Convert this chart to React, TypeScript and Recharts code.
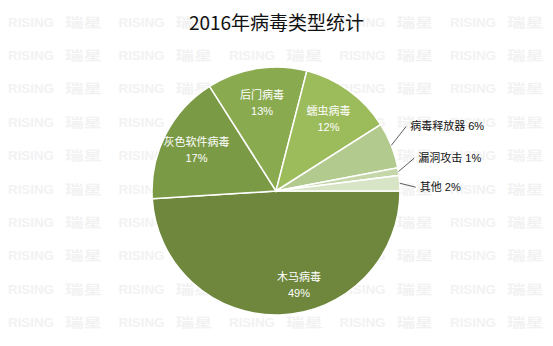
import { PieChart, Pie, Cell } from "recharts";

const categories = ["木马病毒", "灰色软件病毒", "后门病毒", "蠕虫病毒", "病毒释放器", "漏洞攻击", "其他"];
const shares = [49, 17, 13, 12, 6, 1, 2];
const colors = ["#6E873C", "#7B9A45", "#8AAA50", "#9CBB5A", "#B2CA8D", "#C5D7A9", "#D8E4C6"];

const data = categories.map((name, i) => ({ name, value: shares[i] }));

const FONT = '"Liberation Sans", "Noto Sans CJK SC", sans-serif';
const RAD = Math.PI / 180;
// vertical nudges for the small outside labels so they don't collide
const outsideNudge: Record<number, number> = { 4: -13, 5: -11, 6: 5 };

function renderLabel(props: any) {
  const { cx, cy, midAngle, outerRadius, name, value, index } = props;
  const cos = Math.cos(-midAngle * RAD);
  const sin = Math.sin(-midAngle * RAD);
  if (value >= 10) {
    const r = outerRadius * (value > 40 ? 0.76 : 0.72);
    const x = cx + r * cos + (value > 40 ? 20 : 0);
    const y = cy + r * sin;
    return (
      <g>
        <text x={x} y={y - 8} fill="#fff" fontSize={11} fontFamily={FONT} textAnchor="middle" dominantBaseline="central">
          {name}
        </text>
        <text x={x} y={y + 8} fill="#fff" fontSize={11} fontFamily={FONT} textAnchor="middle" dominantBaseline="central">
          {value}%
        </text>
      </g>
    );
  }
  const sx = cx + outerRadius * cos;
  const sy = cy + outerRadius * sin;
  const ex = cx + (outerRadius + 16) * cos;
  const ey = cy + (outerRadius + 16) * sin + (outsideNudge[index] || 0);
  return (
    <g>
      <path d={`M${sx},${sy}L${ex},${ey}`} stroke="#333" strokeWidth={0.8} fill="none" />
      <text x={ex + 4} y={ey} fill="#111" fontSize={11} fontFamily={FONT} textAnchor="start" dominantBaseline="central">
        {`${name} ${value}%`}
      </text>
    </g>
  );
}

function Watermark() {
  const rows = Array.from({ length: 10 }, (_, i) => 22 + i * 33.4);
  const cols = Array.from({ length: 5 }, (_, j) => 8 + j * 110.5);
  return (
    <svg width={553} height={346} style={{ position: "absolute", left: 0, top: 0 }}>
      {rows.map((y) =>
        cols.map((x) => (
          <g key={`${x}-${y}`} fill="#F2F2F2" fontWeight="bold" fontFamily={FONT}>
            <text x={x} y={y} fontSize={13} dominantBaseline="central" textLength={46} lengthAdjust="spacingAndGlyphs">
              RISING
            </text>
            <text x={x + 57} y={y} fontSize={13} dominantBaseline="central" textLength={37} lengthAdjust="spacingAndGlyphs">
              瑞星
            </text>
          </g>
        ))
      )}
    </svg>
  );
}

export default function App() {
  return (
    <div style={{ position: "absolute", left: 0, top: 0, width: 553, height: 346, background: "#fff", overflow: "hidden" }}>
      <Watermark />
      <div style={{ position: "absolute", left: 0, top: 0 }}>
        <PieChart width={553} height={346} margin={{ top: 0, right: 0, bottom: 0, left: 0 }}>
          <Pie
            data={data}
            dataKey="value"
            nameKey="name"
            cx={276}
            cy={191}
            outerRadius={124}
            startAngle={0}
            endAngle={-360}
            stroke="#fff"
            strokeWidth={1.5}
            label={renderLabel}
            labelLine={false}
            isAnimationActive={false}
          >
            {data.map((d, i) => (
              <Cell key={d.name} fill={colors[i]} />
            ))}
          </Pie>
        </PieChart>
      </div>
      <div
        style={{
          position: "absolute",
          left: 0,
          top: 8,
          width: 553,
          textAlign: "center",
          fontSize: 19,
          lineHeight: "28px",
          color: "#111",
          fontFamily: '"Noto Sans CJK SC", sans-serif',
        }}
      >
        2016年病毒类型统计
      </div>
    </div>
  );
}
